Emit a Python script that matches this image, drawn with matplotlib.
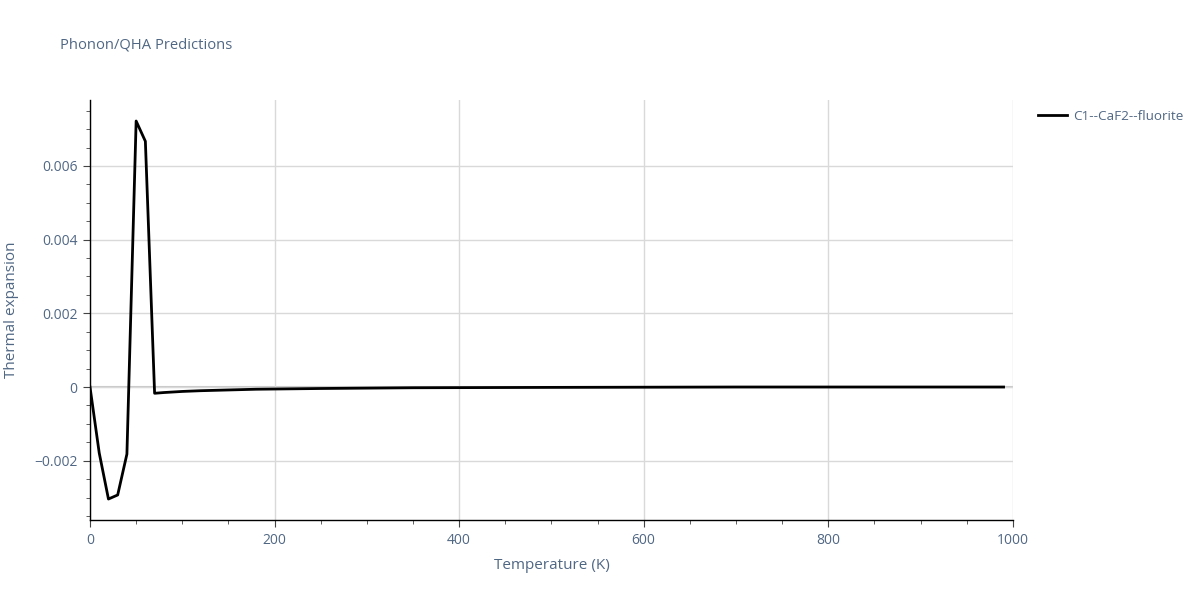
import matplotlib
matplotlib.use("Agg")
import matplotlib.pyplot as plt
from matplotlib.ticker import MultipleLocator

temperature = [0, 10, 20, 30, 40, 50, 60, 70, 80, 100, 120, 150, 180, 250, 350, 500, 700, 990]
thermal_expansion = [0.0, -0.00179, -0.00304, -0.00293, -0.00182, 0.00722, 0.00667, -0.00017,
                     -0.00015, -0.00012, -0.0001, -0.00008, -0.00006, -0.00004, -0.00002,
                     -0.00001, 0.0, 0.0]
series_name = "C1--CaF2--fluorite"
title = "Phonon/QHA Predictions"
x_label = "Temperature (K)"
y_label = "Thermal expansion"

plt.rcParams["font.family"] = ["Open Sans", "DejaVu Sans"]

text_color = "#506784"
grid_color = "#d9d9d9"

fig = plt.figure(figsize=(12, 6), dpi=100)
ax = fig.add_axes([0.075, 0.1333, 0.769, 0.7])

ax.plot(temperature, thermal_expansion, color="black", linewidth=2, label=series_name, zorder=3)

ax.set_xlim(0, 1000)
ax.set_ylim(-0.00361, 0.00779)

ax.xaxis.set_major_locator(MultipleLocator(200))
ax.xaxis.set_minor_locator(MultipleLocator(50))
ax.yaxis.set_major_locator(MultipleLocator(0.002))
ax.yaxis.set_minor_locator(MultipleLocator(0.0005))

def yfmt(v, pos):
    if abs(v) < 1e-12:
        return "0"
    s = f"{v:.3f}"
    return s.replace("-", "\u2212")
ax.yaxis.set_major_formatter(plt.FuncFormatter(yfmt))

ax.grid(True, which="major", color=grid_color, linewidth=1, zorder=0)
ax.axhline(0, color="#c8c8c8", linewidth=1.5, zorder=1)

for side in ["top", "right"]:
    ax.spines[side].set_visible(False)
for side in ["left", "bottom"]:
    ax.spines[side].set_color("black")
    ax.spines[side].set_linewidth(1)

ax.tick_params(axis="both", which="major", direction="out", length=5, color="#444444",
               labelsize=10, labelcolor=text_color, pad=4)
ax.tick_params(axis="both", which="minor", direction="out", length=3, color="#444444")

ax.set_xlabel(x_label, fontsize=11, color=text_color)
ax.set_ylabel(y_label, fontsize=11, color=text_color)
ax.xaxis.set_label_coords(0.5, -0.09)
ax.yaxis.set_label_coords(-0.077, 0.5)

fig.text(0.05, 0.925, title, fontsize=10.6, color=text_color, ha="left", va="center")

leg = ax.legend(loc="upper left", bbox_to_anchor=(1.022, 0.99), frameon=False, fontsize=9.7,
                handlelength=2.1, handletextpad=0.5, borderaxespad=0)
for t in leg.get_texts():
    t.set_color(text_color)

fig.savefig("out.png", dpi=100)
